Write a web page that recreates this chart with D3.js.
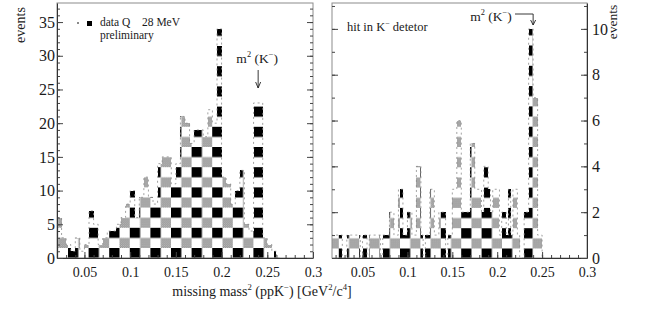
<!DOCTYPE html>
<html>
<head>
<meta charset="utf-8">
<script src="https://cdn.jsdelivr.net/npm/d3@7"></script>
<style>
  body { margin: 0; background: #fff; }
  text { font-family: "Liberation Serif", "DejaVu Serif", serif; fill: #1a1a1a; }
</style>
</head>
<body>
<div id="chart"></div>
<script>
// left panel: all events, bins of 0.005 GeV^2 starting at 0.02
const leftBinStart = 0.02, leftBinWidth = 0.005;
const leftCounts = [6, 3, 2, 1, 3, 1, 2, 7, 5, 2,
                    3, 4, 4, 5, 6, 8, 10, 6, 9, 12,
                    9, 8, 14, 15, 15, 11, 14, 21, 20, 17,
                    19, 19, 18, 22, 20, 34, 12, 11, 8, 10,
                    13, 5, 4, 23, 23, 3, 2, 1, 0];

// right panel: hit in K- detector, bins of 0.0025 GeV^2 starting at 0.015
const rightBinStart = 0.015, rightBinWidth = 0.0025;
const rightCounts = [1, 1, 1, 1, 1, 0, 0, 1, 1, 1,
                     1, 1, 1, 0, 1, 1, 0, 1, 1, 1,
                     1, 1, 0, 1, 1, 1, 2, 2, 1, 1,
                     3, 3, 1, 1, 2, 2, 1, 1, 4, 4,
                     1, 0, 1, 1, 3, 3, 1, 1, 2, 2,
                     2, 0, 1, 1, 3, 3, 6, 6, 2, 2,
                     2, 2, 5, 5, 3, 3, 3, 2, 4, 4,
                     3, 2, 3, 3, 3, 1, 2, 2, 1, 3,
                     1, 3, 3, 1, 0, 0, 2, 2, 10, 10,
                     7, 7, 1, 1, 0];

const xTickValues = [0.05, 0.1, 0.15, 0.2, 0.25, 0.3];
const leftYTicks = [0, 5, 10, 15, 20, 25, 30, 35];
const rightYTicks = [0, 2, 4, 6, 8, 10];
const kaonArrow = 0.24;

const svg = d3.select("#chart")
  .append("svg")
  .attr("width", 645)
  .attr("height", 321);

const defs = svg.append("defs");

// grey squares are a fine dither in the scan
const dither = defs.append("pattern")
  .attr("id", "dither")
  .attr("patternUnits", "userSpaceOnUse")
  .attr("width", 2).attr("height", 2);
dither.append("rect").attr("width", 2).attr("height", 2).attr("fill", "#d8d8d8");
dither.append("rect").attr("width", 1).attr("height", 1).attr("fill", "#737373");
dither.append("rect").attr("x", 1).attr("y", 1).attr("width", 1).attr("height", 1).attr("fill", "#737373");

// black / grey checker used as histogram fill
function addChecker(id, px, py, w, h) {
  const p = defs.append("pattern")
    .attr("id", id)
    .attr("patternUnits", "userSpaceOnUse")
    .attr("x", px).attr("y", py)
    .attr("width", w).attr("height", h);
  p.append("rect").attr("width", w / 2).attr("height", h / 2).attr("fill", "#000");
  p.append("rect").attr("x", w / 2).attr("y", h / 2)
    .attr("width", w / 2).attr("height", h / 2).attr("fill", "url(#dither)");
}
addChecker("checkL", 68, 248, 20.6, 20.2);
addChecker("checkR", 400, 248.5, 20.4, 20.3);

const plotTop = 3, plotBottom = 258;

const panels = [
  { id: "L", left: 57, right: 313, xDomain: [0.02, 0.3], yMax: 37.83,
    start: leftBinStart, binW: leftBinWidth, counts: leftCounts,
    yTicks: leftYTicks, labelSide: "left" },
  { id: "R", left: 332, right: 587, xDomain: [0.016, 0.3], yMax: 11.13,
    start: rightBinStart, binW: rightBinWidth, counts: rightCounts,
    yTicks: rightYTicks, labelSide: "right" }
];

panels.forEach(function (p) {
  const x = d3.scaleLinear().domain(p.xDomain).range([p.left, p.right]);
  const y = d3.scaleLinear().domain([0, p.yMax]).range([plotBottom, plotTop]);
  p.x = x; p.y = y;

  defs.append("clipPath").attr("id", "clip" + p.id)
    .append("rect")
    .attr("x", p.left).attr("y", plotTop)
    .attr("width", p.right - p.left).attr("height", plotBottom - plotTop);

  // step points of the histogram
  const pts = [];
  p.counts.forEach(function (c, i) {
    const x0 = p.start + i * p.binW;
    pts.push([x0, c], [x0 + p.binW, c]);
  });

  const g = svg.append("g").attr("clip-path", "url(#clip" + p.id + ")");

  g.append("path")
    .datum(pts)
    .attr("fill", "url(#check" + p.id + ")")
    .attr("shape-rendering", "crispEdges")
    .attr("d", d3.area()
      .x(function (d) { return x(d[0]); })
      .y0(y(0))
      .y1(function (d) { return y(d[1]); }));

  g.append("path")
    .datum(pts)
    .attr("fill", "none")
    .attr("stroke", "#8a8a8a")
    .attr("stroke-width", 0.8)
    .attr("stroke-dasharray", "2,3")
    .attr("d", d3.line()
      .x(function (d) { return x(d[0]); })
      .y(function (d) { return y(d[1]); }));

  // frame
  svg.append("rect")
    .attr("x", p.left).attr("y", plotTop)
    .attr("width", p.right - p.left).attr("height", plotBottom - plotTop)
    .attr("fill", "none").attr("stroke", "#8c8c8c").attr("stroke-width", 1);

  // x axis, ticks pointing inward
  const xMinor = d3.range(0.02, 0.3001, 0.01).filter(function (v) {
    return v >= p.xDomain[0];
  });
  svg.append("g")
    .attr("transform", `translate(0, ${plotBottom})`)
    .call(d3.axisBottom(x).tickValues(xMinor).tickSize(-3).tickFormat(""))
    .call(function (a) { a.select(".domain").remove(); });
  svg.append("g")
    .attr("class", "xaxis")
    .attr("transform", `translate(0, ${plotBottom})`)
    .call(d3.axisBottom(x).tickValues(xTickValues).tickSize(-6).tickSizeOuter(0)
      .tickPadding(9).tickFormat(d3.format("")));

  // y axis with labels and the mirrored one on the other side
  const yMinor = d3.range(0, Math.floor(p.yMax) + 1, 1);
  const labelX = p.labelSide === "left" ? p.left : p.right;
  const otherX = p.labelSide === "left" ? p.right : p.left;
  const mkAxis = p.labelSide === "left" ? d3.axisLeft : d3.axisRight;
  const mkOther = p.labelSide === "left" ? d3.axisRight : d3.axisLeft;

  svg.append("g")
    .attr("transform", `translate(${labelX}, 0)`)
    .call(mkAxis(y).tickValues(yMinor).tickSize(-3).tickFormat(""))
    .call(function (a) { a.select(".domain").remove(); });
  svg.append("g")
    .attr("class", "yaxis")
    .attr("transform", `translate(${labelX}, 0)`)
    .call(mkAxis(y).tickValues(p.yTicks).tickSize(-6).tickSizeOuter(0)
      .tickPadding(p.labelSide === "left" ? 2 : 5));

  svg.append("g")
    .attr("transform", `translate(${otherX}, 0)`)
    .call(mkOther(y).tickValues(yMinor).tickSize(-3).tickFormat(""))
    .call(function (a) { a.select(".domain").remove(); });
  svg.append("g")
    .attr("transform", `translate(${otherX}, 0)`)
    .call(mkOther(y).tickValues(p.yTicks).tickSize(-6).tickFormat(""))
    .call(function (a) { a.select(".domain").remove(); });
});

svg.selectAll(".tick line").attr("stroke", "#444");
svg.selectAll(".xaxis .domain, .yaxis .domain").attr("stroke", "#333");
svg.selectAll(".xaxis, .yaxis").attr("font-family", null).attr("font-size", null);
svg.selectAll(".xaxis text")
  .style("font-family", "'Liberation Serif', serif").style("font-size", "14px").attr("fill", "#1a1a1a");
svg.selectAll(".yaxis text")
  .style("font-family", "'Liberation Serif', serif").style("font-size", "16px").attr("fill", "#1a1a1a");

// text with superscripts: parts = [[string, isSup], ...]
function richText(xp, yp, parts, size, anchor) {
  const t = svg.append("text")
    .attr("x", xp).attr("y", yp)
    .attr("text-anchor", anchor || "start")
    .style("font-size", size + "px");
  let up = false;
  parts.forEach(function (part) {
    const s = t.append("tspan").text(part[0]);
    if (part[1] && !up) { s.attr("dy", -size * 0.42).style("font-size", (size * 0.62) + "px"); up = true; }
    else if (part[1]) { s.style("font-size", (size * 0.62) + "px"); }
    else if (up) { s.attr("dy", size * 0.42); up = false; }
  });
  return t;
}

// axis titles
svg.append("text")
  .attr("transform", "translate(20.5, 25) rotate(-90)")
  .attr("text-anchor", "middle").attr("dominant-baseline", "central")
  .style("font-size", "14px").text("events");
svg.append("text")
  .attr("transform", "translate(612.5, 22) rotate(-90)")
  .attr("text-anchor", "middle").attr("dominant-baseline", "central")
  .style("font-size", "13.5px").text("events");

richText(262, 296, [["missing mass"], ["2", true], [" (ppK"], ["\u2212", true],
  [")  [GeV"], ["2", true], ["/c"], ["4", true], ["]"]], 14, "middle");

// legend
const lp = panels[0];
svg.append("rect").attr("x", 77).attr("y", 22).attr("width", 2).attr("height", 2).attr("fill", "#8a8a8a");
svg.append("rect").attr("x", 87).attr("y", 21).attr("width", 5).attr("height", 5).attr("fill", "#000");
svg.append("text").attr("x", 100).attr("y", 26).style("font-size", "11.5px").text("data Q");
svg.append("text").attr("x", 142).attr("y", 26).style("font-size", "11.5px").text("28 MeV");
svg.append("text").attr("x", 100).attr("y", 39).style("font-size", "11.5px").text("preliminary");

// m^2(K-) marker, left panel
const axL = lp.x(kaonArrow);
richText(axL - 1, 63, [["m"], ["2", true], [" (K"], ["\u2212", true], [")"]], 13.5, "middle");
svg.append("path")
  .attr("d", `M${axL},70 V88 M${axL - 2.5},82 L${axL},88 L${axL + 2.5},82`)
  .attr("fill", "none").attr("stroke", "#222").attr("stroke-width", 0.9);

// right panel labels
const rp = panels[1];
const axR = rp.x(kaonArrow);
svg.append("text").attr("x", 347).attr("y", 31).style("font-size", "12.5px")
  .call(function (t) {
    t.append("tspan").text("hit in K");
    t.append("tspan").attr("dy", -5).style("font-size", "8px").text("\u2212");
    t.append("tspan").attr("dy", 5).text(" detetor");
  });
richText(491, 21, [["m"], ["2", true], [" (K"], ["\u2212", true], [")"]], 13.5, "middle");
svg.append("path")
  .attr("d", `M515,14 H${axR} V25 M${axR - 2.5},20 L${axR},25 L${axR + 2.5},20`)
  .attr("fill", "none").attr("stroke", "#222").attr("stroke-width", 0.9);
</script>
</body>
</html>
